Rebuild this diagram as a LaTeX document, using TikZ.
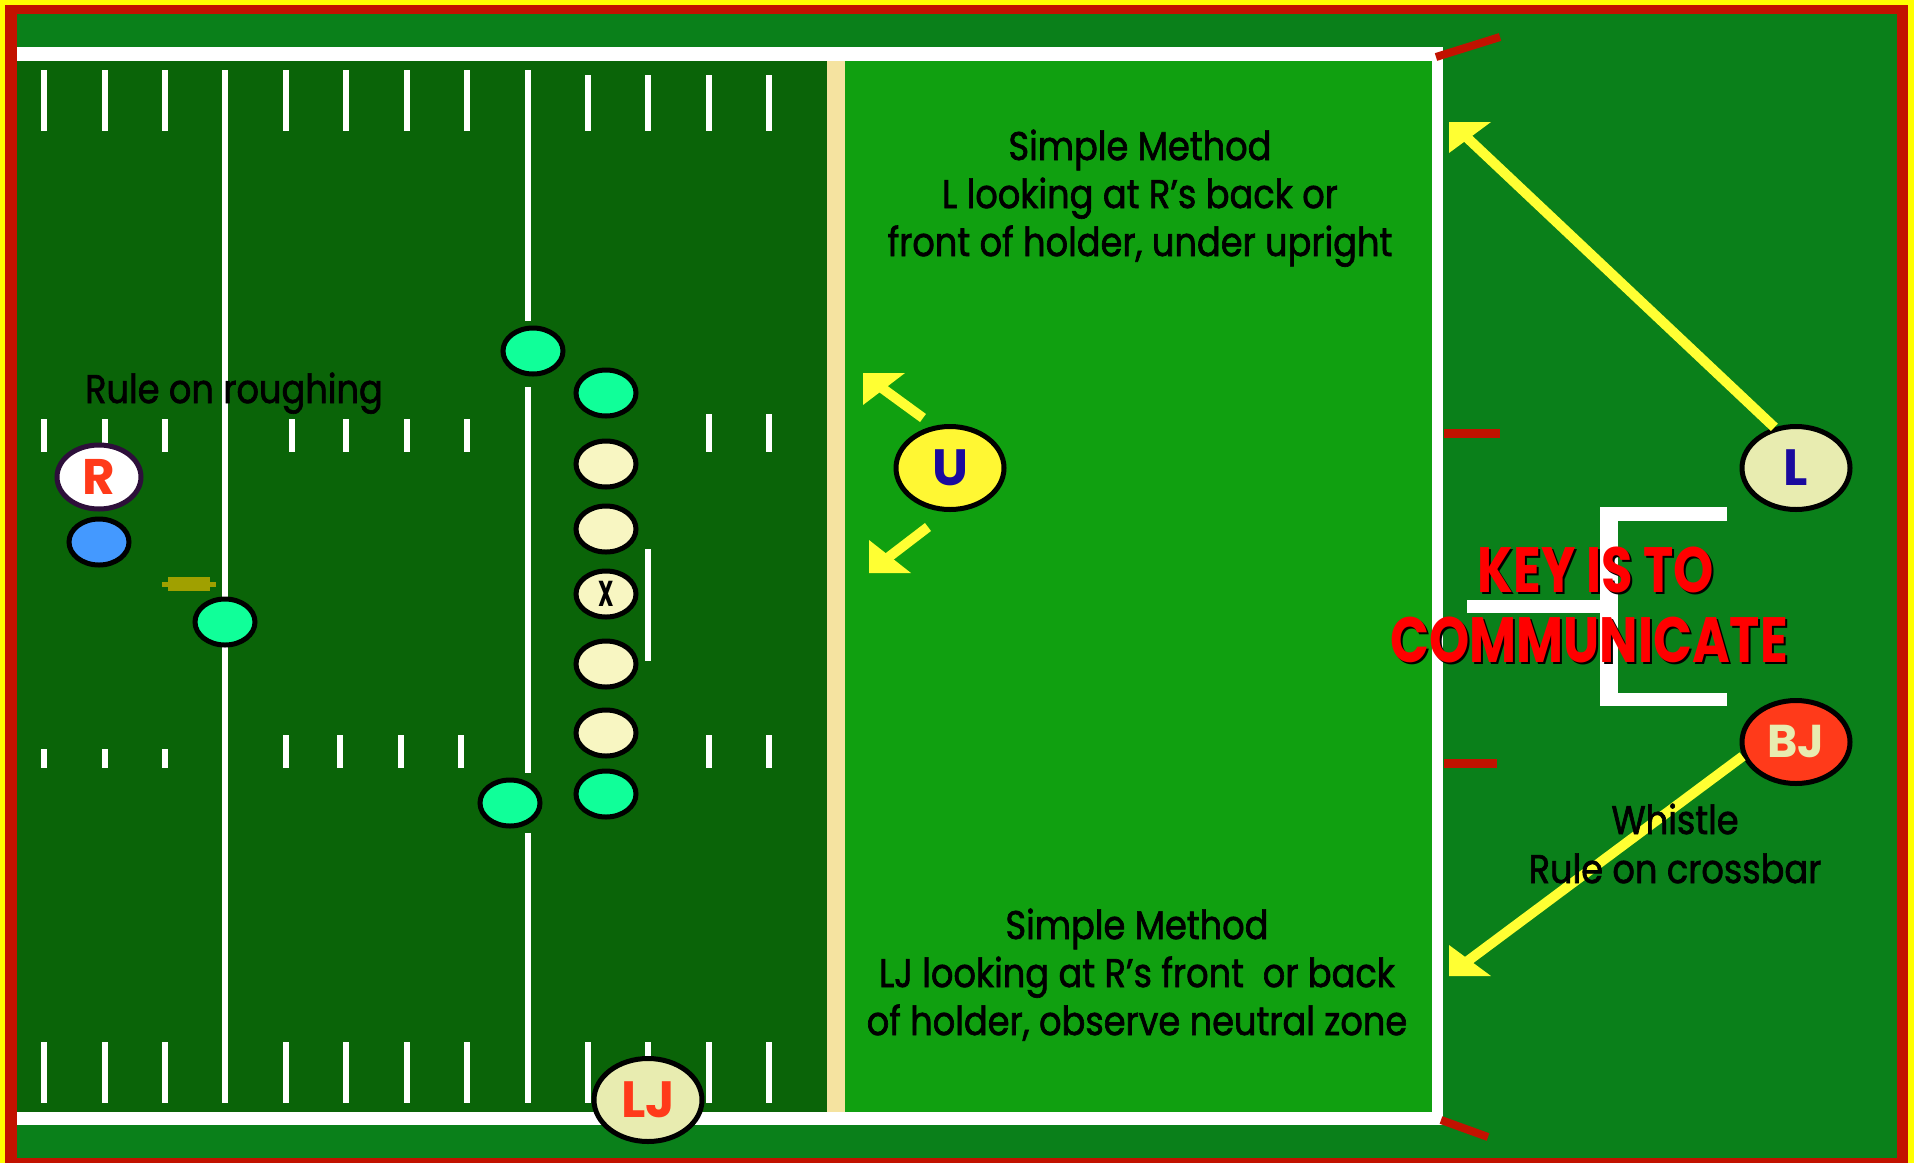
\documentclass[tikz,border=0pt]{standalone}
\usepackage{graphicx}
\usepackage{fontspec}
\setmainfont{Poppins}[FakeStretch=0.88,FakeBold=1.6]
\newfontfamily\letfont{Poppins}
\newfontfamily\keyfont{Poppins}[FakeStretch=0.8]
\usetikzlibrary{shapes.geometric}
\definecolor{yelB}{HTML}{FFFF00}
\definecolor{redB}{HTML}{C21200}
\definecolor{bgG}{HTML}{0A801A}
\definecolor{fieldG}{HTML}{0A6408}
\definecolor{midG}{HTML}{10A010}
\definecolor{tanS}{HTML}{F5E3A0}
\definecolor{mint}{HTML}{10FF99}
\definecolor{cream}{HTML}{F8F6C2}
\definecolor{paleY}{HTML}{E8ECB0}
\definecolor{uYel}{HTML}{FFF733}
\definecolor{bluP}{HTML}{4499FF}
\definecolor{olive}{HTML}{A0A000}
\definecolor{orR}{HTML}{FF3A1A}
\definecolor{letB}{HTML}{1A0A9E}
\definecolor{arrY}{HTML}{FFFF33}
\definecolor{rBord}{HTML}{2D0F3A}
\definecolor{keyR}{HTML}{FF0000}
\tikzset{
  pl/.style 2 args={ellipse,draw=black,line width=5pt,inner sep=0pt,minimum width=#1,minimum height=#2},
  small/.style={pl={60pt}{46pt}},
  big/.style={pl={108pt}{83pt}},
  hash/.style={draw=white,line width=6pt},
  redmark/.style={draw=redB,line width=8pt},
  shaft/.style={draw=arrY,line width=#1},
  tipfill/.style={fill=arrY},
  txt/.style={anchor=base,inner sep=0pt,font=\fontsize{40}{48}\selectfont},
  lett/.style={font=\letfont\bfseries\fontsize{#1}{#1}\selectfont},
  keytxt/.style={anchor=base,inner sep=0pt,font=\keyfont\bfseries\fontsize{64}{70}\selectfont}
}
\begin{document}
\begin{tikzpicture}[x=1pt,y=-1pt]
\useasboundingbox (0,0) rectangle (1914,1163);
% frame and grounds
\fill[yelB] (0,0) rectangle (1914,1163);
\fill[redB] (5,5) rectangle (1908,1163);
\fill[bgG] (17,14) rectangle (1897,1158);
\fill[fieldG] (17,61) rectangle (827,1112);
\fill[tanS] (827,61) rectangle (845,1112);
\fill[midG] (845,61) rectangle (1432,1112);
\fill[white] (17,47) rectangle (1443,61);
\fill[white] (17,1112) rectangle (1443,1125);
\fill[white] (1432,47) rectangle (1443,1125);
% red marks
\draw[redmark] (1436,57) -- (1500,37);
\draw[redmark] (1441,1120) -- (1488,1137);
\fill[redB] (1444,429) rectangle (1500,438);
\fill[redB] (1444,759) rectangle (1497,768);
% yard lines
\draw[hash] (225,70) -- (225,1103);
\draw[hash] (528,70) -- (528,321);
\draw[hash] (528,387) -- (528,773);
\draw[hash] (528,833) -- (528,1103);
\draw[hash] (648,549) -- (648,661);
\foreach \x in {44,105,165,286,346,407,467} \draw[hash] (\x,70) -- (\x,131);
\foreach \x in {588,648,709,769} \draw[hash] (\x,75) -- (\x,131);
\foreach \x in {44,105,165,292,346,407,467} \draw[hash] (\x,419) -- (\x,452);
\foreach \x in {709,769} \draw[hash] (\x,414) -- (\x,452);
\foreach \x in {44,105,165} \draw[hash] (\x,749) -- (\x,768);
\foreach \x in {286,340,401,461,709,769} \draw[hash] (\x,735) -- (\x,768);
\foreach \x in {44,105,165,286,346,407,467,588,648,709,769} \draw[hash] (\x,1042) -- (\x,1103);
% kicking tee
\fill[olive] (168,577) rectangle (210,591);
\fill[olive] (162,582) rectangle (216,587);
% players
\node[small,fill=mint] (gA) at (533,351) {};
\node[small,fill=mint] (gB) at (606,393) {};
\node[small,fill=cream] (c1) at (606,464) {};
\node[small,fill=cream] (c2) at (606,529) {};
\node[small,fill=cream,font=\letfont\bfseries\fontsize{36}{36}\selectfont] (X) at (606,594) {\scalebox{0.6}[1]{X}};
\node[small,fill=cream] (c3) at (606,664) {};
\node[small,fill=cream] (c4) at (606,733) {};
\node[small,fill=mint] (gC) at (606,794) {};
\node[small,fill=mint] (gD) at (510,803) {};
\node[small,fill=mint] (gE) at (225,622) {};
\node[pl={84pt}{64pt},fill=white,draw=rBord,text=orR,lett=50] (R) at (99,477) {R};
\node[small,fill=bluP] (B) at (99,542) {};
\node[big,fill=uYel,text=letB,lett=51] (U) at (950,468) {U};
\node[big,fill=paleY,text=letB,lett=51] (L) at (1796,468) {L};
\node[big,fill=orR,text=paleY,lett=46] (BJ) at (1796,742) {BJ};
\node[big,fill=paleY,text=orR,lett=51] (LJ) at (648,1100) {LJ};
% arrows
\coordinate (uTail1) at (923,418);
\coordinate (uTip1) at (863,373);
\coordinate (uTail2) at (928,527);
\coordinate (uTip2) at (869,573);
\coordinate (lTip) at (1449,122);
\coordinate (bjTip) at (1449,976);
\draw[shaft=10pt] (uTail1) -- ([shift={(12,10)}]uTip1);
\fill[tipfill] (uTip1) -- ++(42,0) -- ++(-42,32) -- cycle;
\draw[shaft=10pt] (uTail2) -- ([shift={(12,-10)}]uTip2);
\fill[tipfill] (uTip2) -- ++(42,0) -- ++(-42,-33) -- cycle;
\draw[shaft=10pt] (L.118) -- ([shift={(12,10)}]lTip);
\fill[tipfill] (lTip) -- ++(42,0) -- ++(-42,31) -- cycle;
\draw[shaft=10pt] (BJ.195) -- ([shift={(12,-10)}]bjTip);
\fill[tipfill] (bjTip) -- ++(42,0) -- ++(-42,-31) -- cycle;
% bracket
\fill[white] (1600,507) rectangle (1618,706);
\fill[white] (1600,507) rectangle (1727,521);
\fill[white] (1600,693) rectangle (1727,706);
\fill[white] (1467,600) rectangle (1600,613);
% texts
\node[txt] (t1) at (1140,160) {Simple Method};
\node[txt] (t2) at (1140,208) {L looking at R’s back or};
\node[txt] (t3) at (1140,256) {front of holder, under upright};
\node[txt] (b1) at (1137,939) {Simple Method};
\node[txt] (b2) at (1137,987) {LJ looking at R’s front\ \ or back};
\node[txt] (b3) at (1137,1035) {of holder, observe neutral zone};
\node[txt] (w1) at (1675,834) {Whistle};
\node[txt] (w2) at (1675,883) {Rule on crossbar};
\node[txt] (rr) at (234,403) {Rule on roughing};
\node[keytxt,text=black] (k1s) at (1598,594) {KEY IS TO};
\node[keytxt,text=black] (k2s) at (1591,664) {COMMUNICATE};
\node[keytxt,text=keyR] (k1) at (1596,592) {KEY IS TO};
\node[keytxt,text=keyR] (k2) at (1589,662) {COMMUNICATE};
\end{tikzpicture}
\end{document}
